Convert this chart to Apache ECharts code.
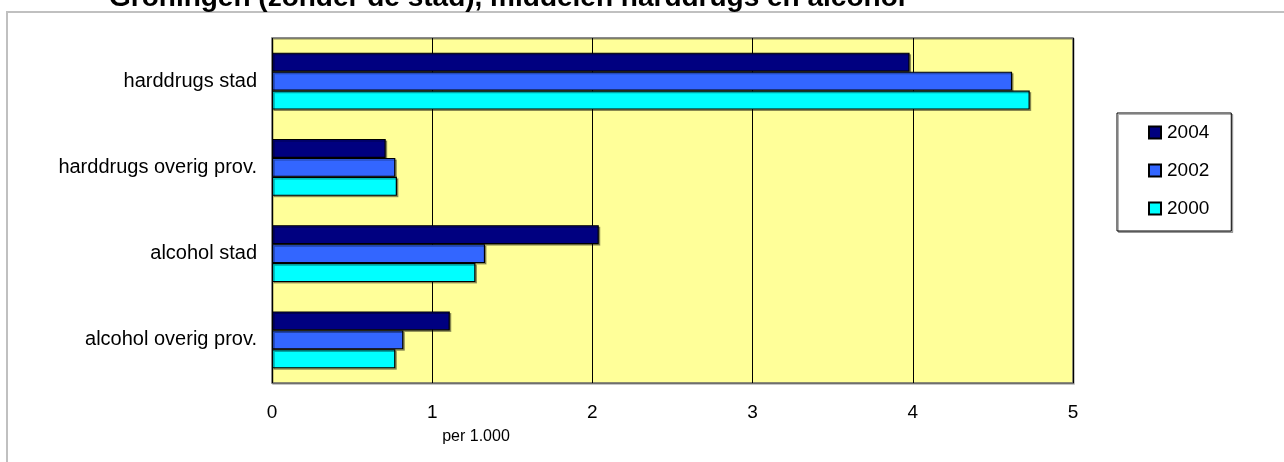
<!DOCTYPE html>
<html>
<head>
<meta charset="utf-8">
<script src="https://cdn.jsdelivr.net/npm/echarts@6/dist/echarts.min.js"></script>
<style>
html,body{margin:0;padding:0;background:#fff;}
#c{width:1284px;height:462px;}
</style>
</head>
<body>
<div id="c"></div>
<script>
const titleText = "Groningen (zonder de stad), middelen harddrugs en alcohol";
const categories = ["harddrugs stad", "harddrugs overig prov.", "alcohol stad", "alcohol overig prov."];
const seriesNames = ["2004", "2002", "2000"];
const values2004 = [3.98, 0.71, 2.04, 1.11];
const values2002 = [4.62, 0.77, 1.33, 0.82];
const values2000 = [4.73, 0.78, 1.27, 0.77];
const xTicks = [0, 1, 2, 3, 4, 5];
const xAxisTitle = "per 1.000";

const colors = ["#000080", "#3366FF", "#00FFFF"];
const FONT = "'Liberation Sans', Arial, sans-serif";
const allValues = [values2004, values2002, values2000];

const chart = echarts.init(document.getElementById('c'), null, {renderer: 'canvas'});
const option = {
  animation: false,
  backgroundColor: '#fff',
  textStyle: {fontFamily: FONT, color: '#000'},
  title: {
    text: titleText,
    left: 109,
    top: -16,
    padding: 0,
    textStyle: {fontFamily: FONT, fontSize: 28, fontWeight: 'bold', color: '#000'}
  },
  graphic: [
    {type: 'rect', silent: true, z: -10,
     shape: {x: 7, y: 12, width: 1300, height: 500},
     style: {fill: 'none', stroke: '#c0c0c0', lineWidth: 2}},
    {type: 'text', silent: true,
     x: 476, y: 437,
     style: {text: xAxisTitle, fontFamily: FONT, fontSize: 16, fill: '#000', align: 'center', verticalAlign: 'middle'}}
  ],
  legend: {
    orient: 'vertical',
    left: 1117,
    top: 113,
    padding: [10, 22, 13, 31],
    itemWidth: 12,
    itemHeight: 12,
    itemGap: 19,
    borderColor: '#000',
    borderWidth: 1,
    shadowColor: 'rgba(0,0,0,0.3)',
    shadowOffsetX: 1.5,
    shadowOffsetY: 1.5,
    backgroundColor: '#fff',
    icon: 'rect',
    textStyle: {fontFamily: FONT, fontSize: 19, color: '#000', lineHeight: 18, padding: [0,0,0,1]},
    data: seriesNames
  },
  grid: {
    left: 272, right: 211, top: 38, bottom: 79,
    show: true,
    backgroundColor: '#FFFF99',
    borderColor: '#666',
    borderWidth: 1.5,
    shadowColor: 'rgba(0,0,0,0.3)',
    shadowOffsetX: 1, shadowOffsetY: 1
  },
  xAxis: {
    type: 'value',
    min: xTicks[0],
    max: xTicks[xTicks.length - 1],
    interval: 1,
    axisLine: {show: false},
    axisTick: {show: false},
    splitLine: {show: true, lineStyle: {color: '#000', width: 1}},
    axisLabel: {fontFamily: FONT, fontSize: 19, color: '#000', margin: 20}
  },
  yAxis: {
    type: 'category',
    inverse: true,
    data: categories,
    axisLine: {show: false},
    axisTick: {show: false},
    axisLabel: {fontFamily: FONT, fontSize: 20, color: '#000', margin: 15}
  },
  series: seriesNames.map((n, i) => ({
    name: n,
    type: 'bar',
    data: allValues[i],
    barGap: '0%',
    barCategoryGap: '34%',
    itemStyle: {
      color: colors[i],
      borderColor: '#000',
      borderWidth: 1.2,
      shadowColor: 'rgba(0,0,0,0.35)',
      shadowOffsetX: 1.5,
      shadowOffsetY: 1.5
    }
  }))
};
chart.setOption(option);
</script>
</body>
</html>
